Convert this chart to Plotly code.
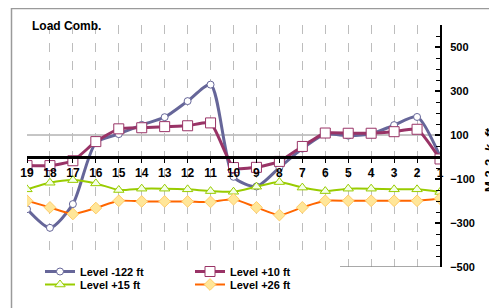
import plotly.graph_objects as go

stations = [19, 18, 17, 16, 15, 14, 13, 12, 11, 10, 9, 8, 7, 6, 5, 4, 3, 2, 1]
level_m122 = [-237, -322, -214, 65, 104, 146, 181, 254, 329, -90, -134, -48, 38, 103, 97, 105, 145, 182, 2]
level_p10 = [-39, -39, -17, 70, 128, 133, 138, 142, 155, -48, -47, -20, 48, 109, 108, 108, 115, 126, -9]
level_p15 = [-147, -117, -105, -120, -150, -144, -144, -147, -155, -158, -135, -114, -139, -155, -144, -144, -147, -147, -159]
level_p26 = [-199, -229, -259, -232, -199, -202, -202, -202, -204, -192, -229, -264, -229, -199, -199, -199, -199, -199, -189]
y_ticks = [-500, -300, -100, 100, 300, 500]

# page has an 8px body margin; the figure is sized to fill the rest of the window
OFF = 8
W, H = 497 - OFF, 308 - OFF
L, T = 27 - OFF, 25 - OFF
R = W - (440 - OFF)
B = H - (267 - OFF)
pw, ph = W - L - R, H - T - B


def px_x(x):
    return (x - OFF - L) / pw


def px_y(y):
    return (H - B - (y - OFF)) / ph


FONT = "Liberation Sans, Arial, sans-serif"

fig = go.Figure()
fig.add_trace(go.Scatter(
    x=stations, y=level_m122, name="Level -122 ft", mode="lines+markers",
    line=dict(color="#666699", width=3, shape="spline", smoothing=0.7),
    marker=dict(symbol="circle", size=7, color="white", line=dict(color="#666699", width=1)),
    legend="legend"))
fig.add_trace(go.Scatter(
    x=stations, y=level_p10, name="Level +10 ft", mode="lines+markers",
    line=dict(color="#993366", width=3, shape="spline", smoothing=0.5),
    marker=dict(symbol="square", size=10, color="white", line=dict(color="#993366", width=1)),
    legend="legend"))
fig.add_trace(go.Scatter(
    x=stations, y=level_p15, name="Level +15 ft", mode="lines+markers",
    line=dict(color="#99CC00", width=2, shape="spline", smoothing=0.6),
    marker=dict(symbol="triangle-up", size=9, color="#F4FFE8", line=dict(color="#99CC00", width=1)),
    legend="legend2"))
fig.add_trace(go.Scatter(
    x=stations, y=level_p26, name="Level +26 ft", mode="lines+markers",
    line=dict(color="#FF6600", width=2, shape="spline", smoothing=0.6),
    marker=dict(symbol="diamond", size=9, color="#FFE699", line=dict(color="#FFCC66", width=1)),
    legend="legend2"))

zero_pos = (0 - (-500)) / 1100.0

fig.update_layout(
    width=W, height=H,
    margin=dict(l=L, r=R, t=T, b=B, autoexpand=False),
    paper_bgcolor="white", plot_bgcolor="white",
    font=dict(family=FONT, size=10, color="black"),
    xaxis=dict(
        range=[19, 1], tickvals=stations, ticktext=[str(s) for s in stations],
        showgrid=True, gridcolor="#BDBDBD", griddash="dash", gridwidth=1,
        zeroline=False, showline=True, linecolor="black", linewidth=3,
        anchor="free", position=zero_pos,
        ticks="outside", ticklen=4, tickcolor="black", tickwidth=1,
        tickfont=dict(family=FONT, size=12, weight="bold"),
    ),
    yaxis=dict(
        range=[-500, 600], side="right", tickvals=y_ticks,
        showgrid=False, zeroline=False,
        showline=True, linecolor="black", linewidth=2,
        ticks="inside", ticklen=5, tickcolor="black", tickwidth=2,
        minor=dict(dtick=50, tick0=0, ticks="inside", ticklen=4, tickcolor="black", tickwidth=1),
        ticklabelstandoff=6,
        tickfont=dict(family=FONT, size=11, weight="bold"),
    ),
    legend=dict(orientation="h", x=px_x(40), y=px_y(257), xanchor="left", yanchor="top",
                bgcolor="white", entrywidth=105, tracegroupgap=0,
                font=dict(family=FONT, size=11, weight="bold")),
    legend2=dict(orientation="h", x=px_x(40), y=px_y(270), xanchor="left", yanchor="top",
                 bgcolor="rgba(0,0,0,0)", entrywidth=105,
                 font=dict(family=FONT, size=11, weight="bold")),
    showlegend=True,
)

shapes = [
    dict(type="line", xref="x", yref="y", x0=19, x1=1, y0=100, y1=100,
         line=dict(color="#8C8C8C", width=1), layer="below"),
    dict(type="line", xref="x", yref="y", x0=6.1, x1=1, y0=-500, y1=-500,
         line=dict(color="#8C8C8C", width=1.5)),
    dict(type="line", xref="paper", yref="paper", x0=px_x(11), x1=px_x(497), y0=px_y(8.5), y1=px_y(8.5),
         line=dict(color="#9A9A9A", width=1.5)),
    dict(type="line", xref="paper", yref="paper", x0=px_x(11.5), x1=px_x(11.5), y0=px_y(8), y1=px_y(308),
         line=dict(color="#9A9A9A", width=1.5)),
]
fig.update_layout(shapes=shapes)

fig.add_annotation(text="<b>Load Comb.</b>", xref="paper", yref="paper",
                   x=px_x(30), y=px_y(26), xanchor="left", yanchor="middle",
                   showarrow=False, font=dict(family=FONT, size=12, color="black"))
fig.add_annotation(text="<b>M 2-2, <i>k. ft</i></b>", xref="paper", yref="paper",
                   x=px_x(489), y=px_y(160), xanchor="center", yanchor="middle",
                   textangle=-90, showarrow=False, font=dict(family=FONT, size=13, color="black"))
fig.add_annotation(text="<b>Thousands</b>", xref="paper", yref="paper",
                   x=px_x(499), y=px_y(52), xanchor="center", yanchor="middle",
                   textangle=-90, showarrow=False, font=dict(family=FONT, size=9, color="black"))

fig.write_html("out.html")
